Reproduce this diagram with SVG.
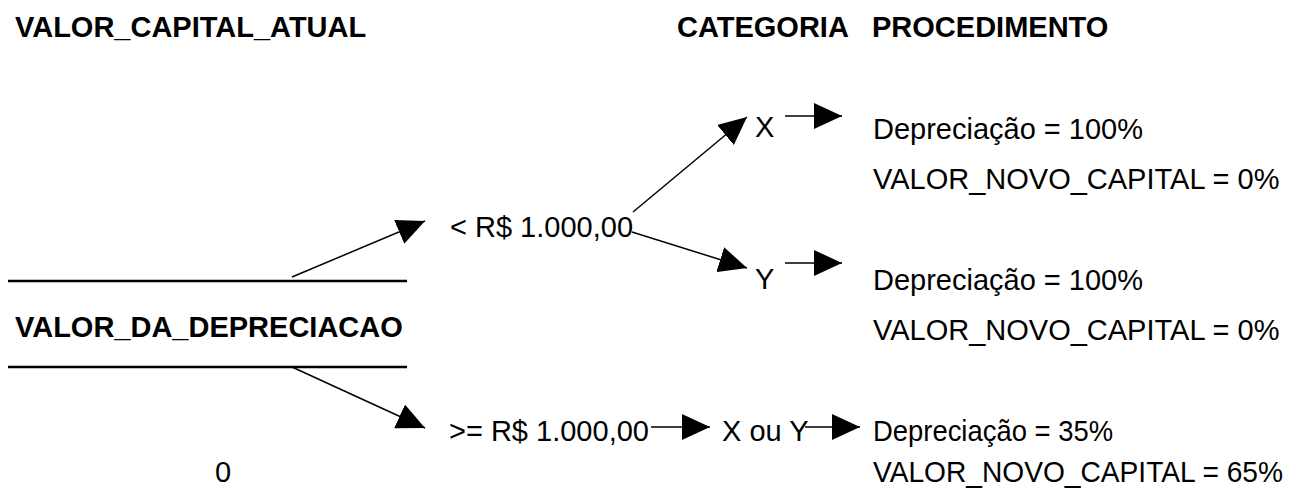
<svg xmlns="http://www.w3.org/2000/svg" width="1305" height="489" viewBox="0 0 1305 489">
<style>
text{font-family:"Liberation Sans",Arial,sans-serif;font-size:29px;fill:#000}
.b{font-weight:bold}
.c line{stroke:#000;stroke-width:1.5}
.rule{stroke:#000;stroke-width:2.5}
</style>
<defs>
<marker id="ah" viewBox="0 0 28 26" refX="28" refY="13" markerWidth="28" markerHeight="26" markerUnits="userSpaceOnUse" orient="auto">
<path d="M0,0 L28,13 L0,26 z" fill="#000"/>
</marker>
</defs>
<rect width="1305" height="489" fill="#fff"/>
<g id="headers">
<text class="b" x="15" y="37">VALOR_CAPITAL_ATUAL</text>
<text class="b" x="677" y="37">CATEGORIA</text>
<text class="b" x="872" y="37">PROCEDIMENTO</text>
</g>
<g id="fraction">
<line class="rule" x1="8" y1="281" x2="407" y2="281"/>
<text class="b" x="15" y="337">VALOR_DA_DEPRECIACAO</text>
<line class="rule" x1="8" y1="367" x2="407" y2="367"/>
</g>
<g id="zero"><text x="215" y="482">0</text></g>
<g id="menor"><text x="450" y="237">&lt; R$ 1.000,00</text></g>
<g id="maior"><text x="449" y="441">&gt;= R$ 1.000,00</text></g>
<g id="catX"><text x="755" y="137">X</text></g>
<g id="catY"><text x="755" y="289">Y</text></g>
<g id="catXY"><text x="722" y="441">X ou Y</text></g>
<g id="procX">
<text x="873" y="139">Depreciação = 100%</text>
<text x="873" y="189">VALOR_NOVO_CAPITAL = 0%</text>
</g>
<g id="procY">
<text x="873" y="290">Depreciação = 100%</text>
<text x="873" y="340">VALOR_NOVO_CAPITAL = 0%</text>
</g>
<g id="procXY">
<text x="873" y="441" textLength="240" lengthAdjust="spacingAndGlyphs">Depreciação = 35%</text>
<text x="873" y="482" textLength="410" lengthAdjust="spacingAndGlyphs">VALOR_NOVO_CAPITAL = 65%</text>
</g>
<g class="c" id="connectors">
<line x1="292" y1="277" x2="425" y2="221" marker-end="url(#ah)"/>
<line x1="292" y1="367" x2="425" y2="428" marker-end="url(#ah)"/>
<line x1="633" y1="212" x2="747" y2="117" marker-end="url(#ah)"/>
<line x1="632" y1="232" x2="747" y2="268" marker-end="url(#ah)"/>
<line x1="785" y1="116" x2="842" y2="116" marker-end="url(#ah)"/>
<line x1="785" y1="263" x2="842" y2="263" marker-end="url(#ah)"/>
<line x1="651" y1="427" x2="710" y2="427" marker-end="url(#ah)"/>
<line x1="805" y1="427" x2="860" y2="427" marker-end="url(#ah)"/>
</g>
</svg>
